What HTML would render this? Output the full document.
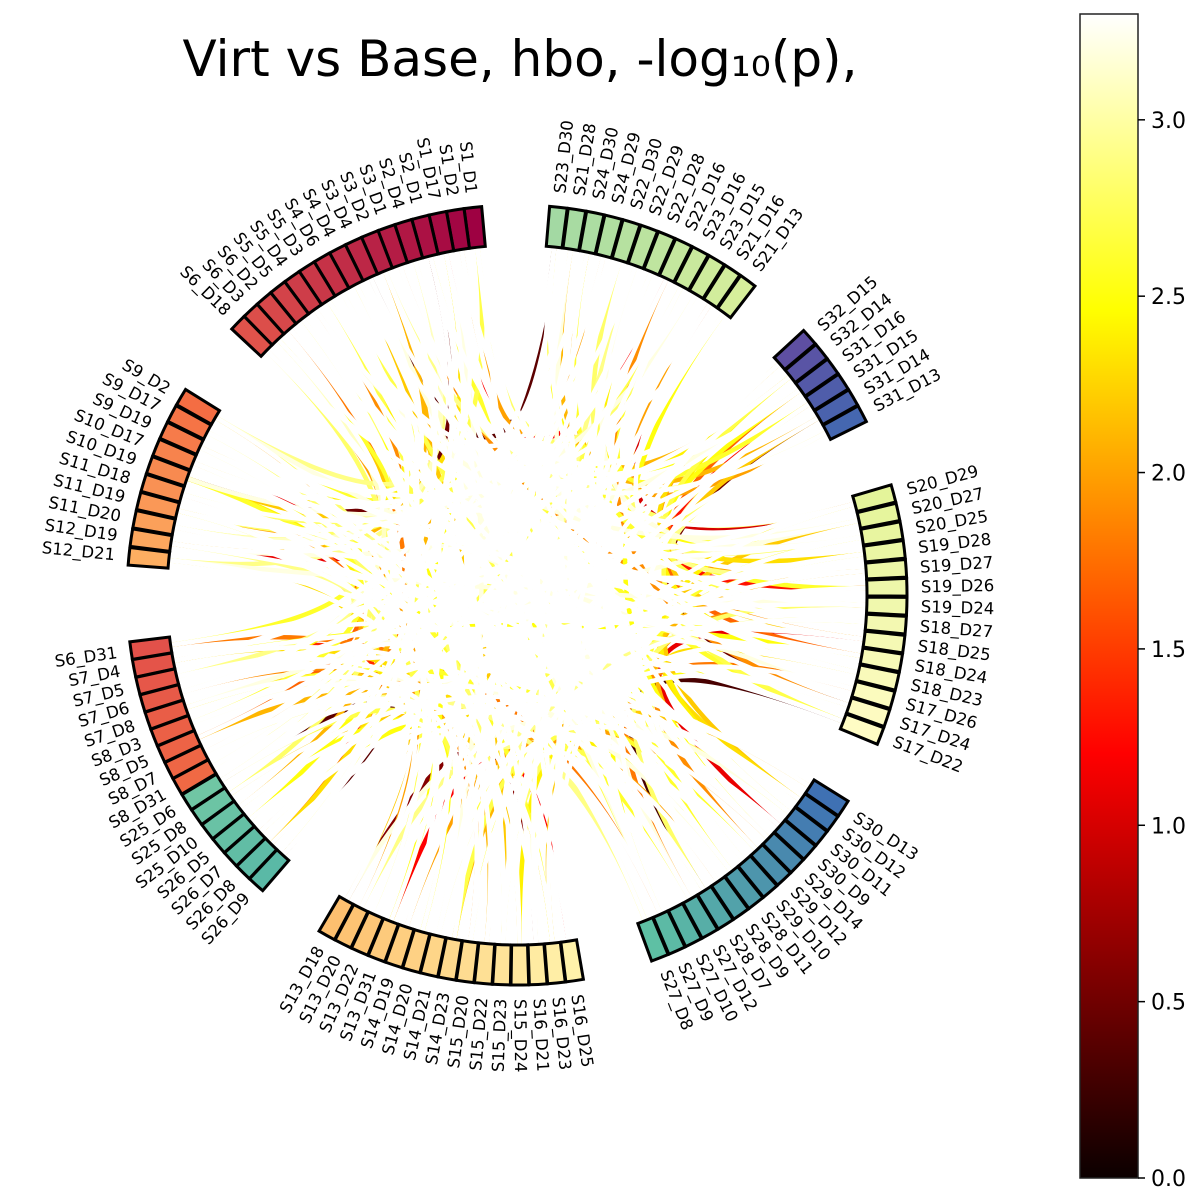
<!DOCTYPE html>
<html><head><meta charset="utf-8"><style>
body{margin:0;background:#fff;width:1200px;height:1200px;overflow:hidden;font-family:"DejaVu Sans","Liberation Sans",sans-serif}
svg{position:absolute;left:0;top:0}
</style></head><body>
<svg id="chart" width="1200" height="1200" viewBox="0 0 1200 1200">
<defs>
<linearGradient id="hot" x1="0" y1="1" x2="0" y2="0">
<stop offset="0" stop-color="#0b0000"/><stop offset="0.365" stop-color="#ff0000"/><stop offset="0.746" stop-color="#ffff00"/><stop offset="1" stop-color="#ffffff"/>
</linearGradient>
</defs>
<text x="520" y="76" font-size="50" text-anchor="middle" fill="#000" font-family="DejaVu Sans, sans-serif">Virt vs Base, hbo, -log₁₀(p),</text>
<g id="chords"></g>
<g id="nodes"></g>
<g id="labels"></g>
<g id="cbar">
<rect x="1080" y="14" width="58" height="1164" fill="url(#hot)" stroke="#222" stroke-width="1.5"/>
</g>
</svg>
<script>
// ---- data ----
const groupNames = [
 ["S1_D1","S1_D2","S1_D17","S2_D1","S2_D4","S3_D1","S3_D2","S3_D4","S4_D4","S4_D6","S5_D3","S5_D4","S5_D5","S6_D2","S6_D3","S6_D18"],
 ["S23_D30","S21_D28","S24_D30","S24_D29","S22_D30","S22_D29","S22_D28","S22_D16","S23_D16","S23_D15","S21_D16","S21_D13"],
 ["S32_D15","S32_D14","S31_D16","S31_D15","S31_D14","S31_D13"],
 ["S20_D29","S20_D27","S20_D25","S19_D28","S19_D27","S19_D26","S19_D24","S18_D27","S18_D25","S18_D24","S18_D23","S17_D26","S17_D24","S17_D22"],
 ["S30_D13","S30_D12","S30_D11","S30_D9","S29_D14","S29_D12","S29_D10","S28_D11","S28_D9","S28_D7","S27_D12","S27_D10","S27_D9","S27_D8"],
 ["S16_D25","S16_D23","S16_D21","S15_D24","S15_D23","S15_D22","S15_D20","S14_D23","S14_D21","S14_D20","S14_D19","S13_D31","S13_D22","S13_D20","S13_D18"],
 ["S6_D31","S7_D4","S7_D5","S7_D6","S7_D8","S8_D3","S8_D5","S8_D7","S8_D31"],
 ["S25_D6","S25_D8","S25_D10","S26_D5","S26_D7","S26_D8","S26_D9"],
 ["S9_D2","S9_D17","S9_D19","S10_D17","S10_D19","S11_D18","S11_D19","S11_D20","S12_D19","S12_D21"]
];
const groupAngles = [[96.5,135.7],[83.9,53.7],[41.4,27.7],[15.1,-21.2],[-33.2,-68.5],[-81.5,-119.2],[188.2,209.4],[212.1,228],[149.5,174.3]];
const groupColors = [["#9e0142","#e0534b"],["#a3d9a3","#d7ef9b"],["#5e4fa2","#4567b0"],["#e4f49a","#fffcc4"],["#3f71b3","#5ec0a4"],["#fff2aa","#fdbf6f"],["#e2514a","#f06944"],["#70c6a4","#5ab9a6"],["#f46d43","#fdae61"]];
// connections: [nodeA, nodeB, value]
const conns = [
[0,40,3.3],[1,55,3.3],[2,70,3.2],[3,85,3.3],[4,100,3.1],[5,30,3.3],[6,45,3.3],[7,60,3.2],[8,75,3.3],[9,90,3.3],
[10,20,3.3],[11,35,3.2],[12,50,3.3],[13,65,3.3],[14,80,3.1],[15,95,3.3],[16,44,3.3],[17,58,3.2],[18,72,3.3],[19,88,3.3],
[20,99,3.3],[21,36,3.2],[22,52,3.3],[23,67,3.3],[24,83,3.3],[25,97,3.2],[26,41,3.3],[27,62,3.3],[28,70,3.3],[29,86,3.3],
[30,101,3.2],[31,54,3.3],[32,77,3.3],[33,92,3.3],[34,66,3.3],[35,81,3.2],[36,96,3.3],[37,59,3.3],[38,74,3.3],[39,89,3.3],
[40,102,3.2],[41,68,3.3],[42,84,3.3],[43,94,3.3],[44,78,3.3],[45,93,3.2],[46,63,3.3],[47,79,3.3],[48,91,3.3],[49,98,3.3],
[50,76,3.2],[51,87,3.3],[52,2,3.3],[53,12,3.3],[54,22,3.3],[55,82,3.2],[56,5,3.3],[57,95,3.3],[58,11,3.3],[59,100,3.3],
[0,48,3.3],[0,62,3.3],[1,34,3.3],[1,78,3.3],[2,44,3.3],[2,90,3.3],[3,28,3.3],[3,60,3.3],[4,52,3.3],[4,72,3.3],
[5,38,3.3],[5,84,3.3],[6,56,3.3],[6,68,3.3],[7,42,3.3],[7,94,3.3],[8,33,3.3],[8,86,3.3],[9,50,3.3],[9,80,3.3],
[10,64,3.3],[10,46,3.3],[11,30,3.3],[11,92,3.3],[12,58,3.3],[12,76,3.3],[13,36,3.3],[13,70,3.3],[14,54,3.3],[14,100,3.3],
[15,40,3.3],[15,66,3.3],[16,62,3.3],[16,80,3.3],[17,92,3.3],[17,70,3.3],[18,50,3.3],[18,96,3.3],[19,60,3.3],[19,84,3.3],
[20,75,3.3],[20,88,3.3],[21,98,3.3],[21,54,3.3],[22,64,3.3],[22,86,3.3],[23,78,3.3],[23,101,3.3],[24,56,3.3],[24,70,3.3],
[25,90,3.3],[25,66,3.3],[26,82,3.3],[26,60,3.3],[27,94,3.3],[27,74,3.3],[28,62,3.3],[29,95,3.3],[30,80,3.3],[31,66,3.3],
[32,88,3.3],[33,72,3.3],[34,80,3.3],[35,96,3.3],[36,64,3.3],[37,90,3.3],[38,100,3.3],[39,70,3.3],[40,84,3.3],[41,94,3.3],
[42,77,3.3],[43,62,3.3],[44,98,3.3],[45,68,3.3],[46,86,3.3],[47,101,3.3],[48,80,3.3],[49,92,3.3],[50,100,3.3],[51,70,3.3],
[52,84,3.3],[53,96,3.3],[54,74,3.3],[55,102,3.3],[56,88,3.3],[57,78,3.3],[58,94,3.3],[59,66,3.3],[60,82,3.3],[61,98,3.3],
[62,94,3.3],[63,84,3.3],[64,100,3.3],[65,79,3.3],[66,96,3.3],[67,90,3.3],[68,102,3.3],[69,81,3.3],[70,95,3.3],[71,85,3.3],
[72,98,3.3],[73,89,3.3],[74,93,3.3],[75,80,3.3],[76,99,3.3],
[0,25,2.8],[3,47,2.6],[6,33,2.9],[9,60,2.7],[12,73,2.5],[15,86,2.8],[18,39,2.6],[21,64,2.9],[24,90,2.7],[27,52,2.5],
[29,44,2.4],[31,47,2.7],[33,36,2.8],[37,55,2.6],[41,70,2.9],[43,78,2.5],[50,66,2.8],[53,81,2.6],[57,69,2.7],[61,84,2.9],
[63,97,2.6],[66,93,2.8],[71,88,2.5],[74,99,2.7],[79,101,2.9],[82,96,2.6],[85,94,2.8],[89,2,2.5],[92,10,2.7],[94,14,2.6],
[98,8,2.8],[102,4,2.9],
[0,100,2.7],[2,96,2.3],[4,93,2.9],[6,101,2.1],[8,98,2.6],[10,95,2.4],[12,99,2.8],[14,97,2.2],
[16,30,2.5],[18,32,2.1],[20,34,2.8],[22,29,2.4],[24,31,2.6],[26,33,2.0],
[28,37,2.3],[29,40,2.7],[30,35,2.5],[32,42,2.2],[33,38,2.9],
[34,50,2.4],[36,54,2.6],[38,52,2.1],[40,57,2.8],[44,49,2.3],[46,60,2.5],
[48,63,2.2],[50,68,2.7],[52,72,2.0],[55,65,2.4],[58,70,2.6],[61,75,2.9],
[63,78,2.3],[67,83,2.1],[70,86,2.7],[73,90,2.5],[76,81,2.2],
[77,94,2.6],[80,97,2.4],[84,100,2.0],[87,95,2.8],[91,102,2.3],
[1,19,2.0],[5,42,1.9],[8,66,2.2],[13,91,1.8],[17,29,2.1],[23,46,1.9],[28,38,2.0],[30,43,1.7],
[35,49,2.2],[40,53,1.9],[45,58,1.8],[48,69,2.1],[56,72,2.0],[60,77,1.8],[65,87,2.2],[68,80,1.9],[75,93,2.0],[83,98,1.7],
[88,6,2.1],[95,11,1.9],[99,15,2.0],[2,23,1.2],[26,34,1.0],[31,39,1.3],[42,51,1.1],[62,73,1.2],[78,90,1.4],[96,101,1.1],
[7,16,0.4],[32,46,0.5],[47,57,0.3],[64,76,0.6],[86,92,0.4],[97,3,0.5]
];
const cbTicks = [0.0,0.5,1.0,1.5,2.0,2.5,3.0];
const vmax = 3.3;

// ---- helpers ----
const NS="http://www.w3.org/2000/svg";
const cx=517, cy=595, rIn=350, rOut=390, rLab=404;
function h2r(h){return [1,3,5].map(i=>parseInt(h.substr(i,2),16));}
function lerpC(a,b,t){const A=h2r(a),B=h2r(b);return "rgb("+A.map((v,i)=>Math.round(v+(B[i]-v)*t)).join(",")+")";}
function pt(a,r){const t=a*Math.PI/180;return [cx+r*Math.cos(t), cy-r*Math.sin(t)];}
function hot(v){const t=Math.max(0,Math.min(1,v/vmax));
 const r=Math.min(1,t/0.365), g=Math.max(0,Math.min(1,(t-0.365)/0.381)), b=Math.max(0,Math.min(1,(t-0.746)/0.254));
 return "rgb("+Math.round(11+244*r)+","+Math.round(255*g)+","+Math.round(255*b)+")";}
function cbY(v){return 1178 - v/vmax*1164;}

const nodes=[];
groupNames.forEach((names,g)=>{
 const [a0,a1]=groupAngles[g], n=names.length;
 names.forEach((nm,i)=>{
  const t=n>1?i/(n-1):0;
  nodes.push({name:nm, angle:a0+(a1-a0)*t, color:lerpC(groupColors[g][0],groupColors[g][1],t)});
 });
});

const chordG=document.getElementById('chords');
conns.slice().sort((a,b)=>a[2]-b[2]).forEach(c=>{
 const A=nodes[c[0]], B=nodes[c[1]];
 if(!A||!B) return;
 const p1=pt(A.angle,rIn), p2=pt(B.angle,rIn);
 const q1=pt(A.angle,rIn*0.3), q2=pt(B.angle,rIn*0.3);
 const path=document.createElementNS(NS,'path');
 path.setAttribute('d',`M${p1[0]},${p1[1]} C${q1[0]},${q1[1]} ${q2[0]},${q2[1]} ${p2[0]},${p2[1]}`);
 path.setAttribute('fill','none');
 path.setAttribute('stroke',hot(c[2]));
 path.setAttribute('stroke-width','4.5');
 
 
 chordG.appendChild(path);
});

const nodeG=document.getElementById('nodes'), labG=document.getElementById('labels');
const half=1.3;
nodes.forEach(nd=>{
 const a0=nd.angle-half, a1=nd.angle+half;
 const o0=pt(a0,rOut),o1=pt(a1,rOut),i1=pt(a1,rIn),i0=pt(a0,rIn);
 const p=document.createElementNS(NS,'path');
 p.setAttribute('d',`M${o0[0]},${o0[1]} A${rOut},${rOut} 0 0 0 ${o1[0]},${o1[1]} L${i1[0]},${i1[1]} A${rIn},${rIn} 0 0 1 ${i0[0]},${i0[1]} Z`);
 p.setAttribute('fill',nd.color);
 p.setAttribute('stroke','#000');
 p.setAttribute('stroke-width','3');
 
 
 nodeG.appendChild(p);
 const lp=pt(nd.angle,rLab);
 const tx=document.createElementNS(NS,'text');
 const right=Math.cos(nd.angle*Math.PI/180)>=0;
 const rot=right?-nd.angle:-(nd.angle+180);
 tx.setAttribute('x',lp[0]); tx.setAttribute('y',lp[1]);
 tx.setAttribute('transform',`rotate(${rot} ${lp[0]} ${lp[1]})`);
 tx.setAttribute('text-anchor',right?'start':'end');
 tx.setAttribute('dominant-baseline','central');
 tx.setAttribute('font-size','16.5');
 tx.textContent=nd.name;
 
 
 labG.appendChild(tx);
});

const cb=document.getElementById('cbar');
cbTicks.forEach(v=>{
 const y=cbY(v);
 const l=document.createElementNS(NS,'line');
 l.setAttribute('x1',1138);l.setAttribute('x2',1145);l.setAttribute('y1',y);l.setAttribute('y2',y);
 l.setAttribute('stroke','#000');l.setAttribute('stroke-width','1.5');
 
 
 cb.appendChild(l);
 const t=document.createElementNS(NS,'text');
 t.setAttribute('x',1151);t.setAttribute('y',y+8);t.setAttribute('font-size','22');
 t.textContent=v.toFixed(1);
 
 
 cb.appendChild(t);
});
</script>
</body></html>
